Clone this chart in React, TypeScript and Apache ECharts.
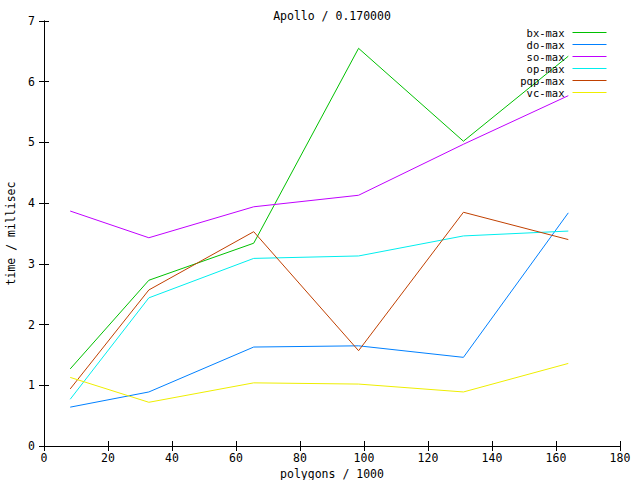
import React, { useEffect, useRef } from "react";
import * as echarts from "echarts";

const polygons = [8.192, 32.768, 65.536, 98.304, 131.072, 163.84];
const seriesNames = ["bx-max", "do-max", "so-max", "op-max", "pqp-max", "vc-max"];
const seriesColors = ["#00c000", "#0080ff", "#c000ff", "#00eeee", "#c04000", "#eeee00"];
const bxMax = [1.27, 2.73, 3.34, 6.55, 5.02, 6.42];
const doMax = [0.64, 0.89, 1.63, 1.65, 1.46, 3.84];
const soMax = [3.87, 3.43, 3.94, 4.13, 4.97, 5.77];
const opMax = [0.77, 2.44, 3.09, 3.13, 3.46, 3.54];
const pqpMax = [0.94, 2.57, 3.53, 1.57, 3.85, 3.4];
const vcMax = [1.13, 0.72, 1.04, 1.02, 0.89, 1.36];
const seriesValues = [bxMax, doMax, soMax, opMax, pqpMax, vcMax];

const FONT = "DejaVu Sans Mono";
const FS = 11.5;

export default function App() {
  const ref = useRef<HTMLDivElement>(null);
  useEffect(() => {
    if (!ref.current) return;
    const chart = echarts.init(ref.current, undefined, { renderer: "svg" });
    const axisLine = { show: true, lineStyle: { color: "#000", width: 1 } };
    const tick = { show: true, inside: true, length: 5, lineStyle: { color: "#000", width: 1 } };
    const label = { color: "#000", fontFamily: FONT, fontSize: FS };
    chart.setOption({
      animation: false,
      backgroundColor: "#fff",
      textStyle: { fontFamily: FONT, fontSize: FS, color: "#000" },
      title: {
        text: "Apollo / 0.170000",
        left: 332,
        top: 10,
        textAlign: "center",
        padding: 0,
        textStyle: { fontFamily: FONT, fontSize: FS, fontWeight: "normal", color: "#000" },
      },
      legend: {
        orient: "vertical",
        right: 33,
        top: 26.5,
        align: "right",
        itemWidth: 34,
        itemHeight: 12,
        itemGap: 0,
        padding: 0,
        itemStyle: { opacity: 0 },
        lineStyle: { width: 1 },
        textStyle: { fontFamily: FONT, fontSize: 10.5, color: "#000", lineHeight: 12, padding: [0, 3, 0, 0] },
        data: seriesNames,
      },
      grid: { left: 44, right: 20, top: 21, bottom: 34, containLabel: false, outerBoundsMode: "none" },
      xAxis: [
        {
          type: "value",
          min: 0,
          max: 180,
          interval: 20,
          name: "polygons / 1000",
          nameLocation: "middle",
          nameGap: 22,
          nameMoveOverlap: false,
          nameTextStyle: label,
          axisLine,
          axisTick: tick,
          axisLabel: { ...label, margin: 6 },
          splitLine: { show: false },
        },
        {
          type: "value",
          position: "top",
          min: 0,
          max: 180,
          interval: 20,
          axisLine,
          axisTick: tick,
          axisLabel: { show: false },
          splitLine: { show: false },
        },
      ],
      yAxis: [
        {
          type: "value",
          min: 0,
          max: 7,
          interval: 1,
          name: "time / millisec",
          nameLocation: "middle",
          nameGap: 26,
          nameTextStyle: label,
          axisLine,
          axisTick: tick,
          axisLabel: { ...label, margin: 9 },
          splitLine: { show: false },
        },
        {
          type: "value",
          position: "right",
          min: 0,
          max: 7,
          interval: 1,
          axisLine,
          axisTick: tick,
          axisLabel: { show: false },
          splitLine: { show: false },
        },
      ],
      series: seriesNames.map((name, i) => ({
        name,
        type: "line",
        xAxisIndex: 0,
        yAxisIndex: 0,
        showSymbol: false,
        symbol: "none",
        color: seriesColors[i],
        itemStyle: { color: seriesColors[i] },
        lineStyle: { width: 1, color: seriesColors[i] },
        data: polygons.map((x, j) => [x, seriesValues[i][j]]),
      })),
    });
    return () => chart.dispose();
  }, []);
  return (
    <div
      ref={ref}
      style={{ position: "fixed", left: 0, top: 0, width: 640, height: 480, background: "#fff" }}
    />
  );
}
